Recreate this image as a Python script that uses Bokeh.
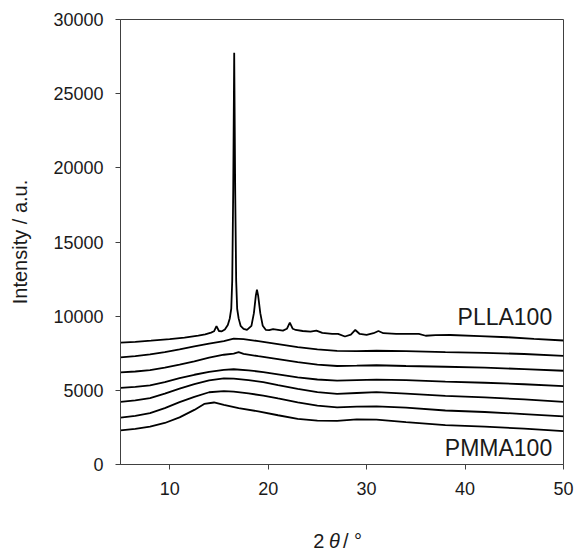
from bokeh.plotting import figure
from bokeh.models import Range1d, FixedTicker, Label
from bokeh.layouts import column
from bokeh.core.properties import value
from bokeh.embed import file_html
from bokeh.resources import INLINE

# ---- data (2theta in degrees, intensity in a.u.) ----
plla100_x = [5.0, 6.5, 8.1, 10.0, 11.5, 12.9, 13.6, 14.2, 14.5, 14.75, 15.0, 15.3, 15.6, 15.9,
             16.1, 16.25, 16.35, 16.45, 16.55, 16.65, 16.75, 16.85, 17.0, 17.2, 17.5, 17.85,
             18.3, 18.55, 18.75, 18.86, 18.98, 19.2, 19.45, 19.75, 20.1, 20.5, 21.0, 21.5,
             21.9, 22.2, 22.5, 22.8, 23.5, 24.3, 24.9, 25.5, 26.5, 27.1, 27.8, 28.4, 28.85,
             29.3, 30.0, 30.7, 31.2, 31.7, 33.0, 34.5, 35.3, 36.0, 37.0, 38.5, 41.5, 44.3,
             47.0, 50.0]
plla100_y = [8220, 8270, 8350, 8450, 8550, 8690, 8780, 8890, 8980, 9330, 9000, 8980, 9100, 9400,
             9850, 10500, 12400, 18500, 27750, 18500, 12400, 10500, 9850, 9350, 9150, 9080,
             9350, 10200, 11400, 11780, 11400, 10200, 9350, 9080, 9060, 9120, 9080, 9030,
             9150, 9560, 9150, 9070, 9000, 8960, 9030, 8870, 8800, 8800, 8630, 8760, 9070,
             8800, 8740, 8850, 9000, 8850, 8800, 8800, 8800, 8680, 8720, 8730, 8660, 8580,
             8470, 8360]

s2_x = [5, 6.5, 8, 9.5, 11, 12.5, 14, 15.5, 16.5, 17.5, 19, 21, 23, 25, 27, 29, 31, 34, 38, 42, 46, 50]
s2_y = [7225, 7300, 7420, 7580, 7760, 7960, 8150, 8320, 8480, 8450, 8320, 8120, 7920, 7760, 7660,
        7650, 7670, 7650, 7580, 7530, 7450, 7320]

s3_x = [5, 6.5, 8, 9.5, 11, 12.5, 14, 15.5, 16.5, 17.0, 17.5, 19, 21, 23, 25, 27, 29, 31, 34, 38, 42, 46, 50]
s3_y = [6210, 6270, 6360, 6530, 6740, 6960, 7200, 7400, 7480, 7570, 7460, 7300, 7100, 6900, 6740,
        6640, 6660, 6690, 6640, 6590, 6530, 6430, 6320]

s4_x = [5, 6.5, 8, 9.5, 11, 12.5, 14, 15.5, 16.5, 18, 19.5, 21, 23, 25, 27, 29, 31, 34, 38, 42, 46, 50]
s4_y = [5170, 5240, 5340, 5560, 5820, 6050, 6240, 6380, 6420, 6350, 6230, 6080, 5880, 5730, 5650,
        5690, 5720, 5690, 5590, 5510, 5410, 5280]

s5_x = [5, 6.5, 8, 9.5, 11, 12.5, 14, 15.5, 16.5, 18, 19.5, 21, 23, 25, 27, 29, 31, 34, 38, 42, 46, 50]
s5_y = [4220, 4320, 4480, 4780, 5120, 5420, 5670, 5800, 5790, 5690, 5560, 5350, 5100, 4880, 4760,
        4820, 4880, 4780, 4620, 4520, 4390, 4220]

s6_x = [5, 6.5, 8, 9.5, 11, 12.5, 14, 15.5, 16.5, 18, 19.5, 21, 23, 25, 27, 29, 31, 34, 38, 42, 46, 50]
s6_y = [3160, 3280, 3460, 3800, 4200, 4560, 4870, 4950, 4910, 4790, 4650, 4450, 4190, 3970, 3850,
        3900, 3920, 3840, 3640, 3540, 3400, 3250]

pmma100_x = [5, 6.5, 8, 9.5, 11, 12.5, 13.5, 14.5, 15.5, 17, 19, 21, 23, 25, 27, 29, 31, 34, 38, 42, 46, 50]
pmma100_y = [2300, 2400, 2560, 2800, 3180, 3680, 4080, 4180, 4020, 3800, 3580, 3320, 3070, 2960,
             2940, 3040, 3020, 2860, 2660, 2550, 2420, 2255]

series = [(plla100_x, plla100_y), (s2_x, s2_y), (s3_x, s3_y), (s4_x, s4_y),
          (s5_x, s5_y), (s6_x, s6_y), (pmma100_x, pmma100_y)]

x_ticks = [10, 20, 30, 40, 50]
y_ticks = [0, 5000, 10000, 15000, 20000, 25000, 30000]

# x-axis title pieces: "2", italic "θ", "/ °"
xtitle_texts = ["2", "θ", "/ °"]
xtitle_x = [25.70, 26.73, 27.60]

FONT = "Liberation Sans"
AX = "#404040"
TXT = "#1a1a1a"

p = figure(width=576, height=510, output_backend="svg", toolbar_location=None,
           x_range=Range1d(5, 50), y_range=Range1d(0, 30000),
           min_border_left=120, min_border_right=13, min_border_top=19, min_border_bottom=46)

p.xgrid.visible = False
p.ygrid.visible = False
p.background_fill_color = "white"
p.border_fill_color = "white"
p.outline_line_color = AX
p.outline_line_width = 1

for x, y in series:
    p.line(x, y, line_color="black", line_width=1.8)

p.xaxis.ticker = FixedTicker(ticks=x_ticks)
p.yaxis.ticker = FixedTicker(ticks=y_ticks)
for ax in (p.xaxis[0], p.yaxis[0]):
    ax.axis_line_color = AX
    ax.major_tick_line_color = AX
    ax.major_tick_in = 0
    ax.major_tick_out = 5
    ax.minor_tick_line_color = None
    ax.major_label_text_font = FONT
    ax.major_label_text_font_size = "18px"
    ax.major_label_text_color = TXT
    ax.major_label_standoff = 12
    ax.axis_label_text_font = FONT
    ax.axis_label_text_font_size = "20px"
    ax.axis_label_text_font_style = "normal"
    ax.axis_label_text_color = TXT

p.yaxis.axis_label = "Intensity / a.u."
p.yaxis.axis_label_standoff = 19

# curve labels
p.add_layout(Label(x=48.85, y=9940, text="PLLA100", text_align="right", text_baseline="middle",
                   text_font=FONT, text_font_size="23px", text_color=TXT))
p.add_layout(Label(x=48.85, y=1110, text="PMMA100", text_align="right", text_baseline="middle",
                   text_font=FONT, text_font_size="23px", text_color=TXT))

# strip below the chart holding the x-axis title
q = figure(width=576, height=40, output_backend="svg", toolbar_location=None,
           x_range=Range1d(5, 50), y_range=Range1d(0, 40),
           x_axis_location=None, y_axis_location=None,
           min_border_left=120, min_border_right=13, min_border_top=0, min_border_bottom=0)
q.xgrid.visible = False
q.ygrid.visible = False
q.outline_line_color = None
q.border_fill_color = "white"
q.background_fill_color = "white"

aligns = ["right", "center", "left"]
styles = ["normal", "italic", "normal"]
for t, xx, al, st in zip(xtitle_texts, xtitle_x, aligns, styles):
    q.text(x=[xx], y=[10], text=[t], text_align=al, text_baseline="middle",
           text_font=value(FONT), text_font_size="20px", text_font_style=st, text_color=TXT)

layout = column(p, q, spacing=0)
open("out.html", "w").write(file_html(layout, INLINE))
